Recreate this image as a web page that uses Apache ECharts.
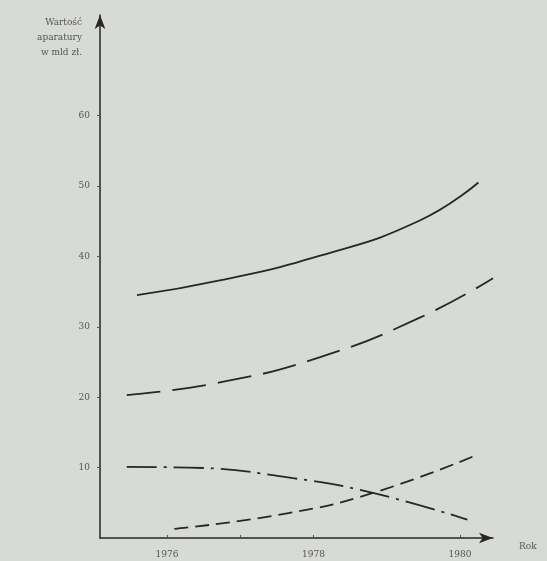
<!DOCTYPE html>
<html><head><meta charset="utf-8">
<script src="https://cdn.jsdelivr.net/npm/echarts@6/dist/echarts.min.js"></script>
<style>html,body{margin:0;padding:0;background:#d8dbd5}#c{width:547px;height:561px}</style>
</head><body><div id="c"></div>
<script>
// data (year, value in mld zł)
const solidYears = [1975.59, 1976.72, 1978.09, 1979.45, 1980.25];
const solidVals  = [34.5, 36.6, 40.1, 45.1, 50.5];
const longDashYears = [1975.45, 1976.72, 1978.09, 1979.45, 1980.45];
const longDashVals  = [20.3, 22.1, 25.7, 31.3, 36.9];
const dashDotYears = [1975.45, 1976.3, 1977.72, 1978.81, 1980.1];
const dashDotVals  = [10.1, 10.0, 8.5, 6.4, 2.6];
const shortDashYears = [1976.1, 1977.64, 1978.81, 1980.23];
const shortDashVals  = [1.3, 3.5, 6.4, 11.8];
const yTicks = [10, 20, 30, 40, 50, 60];
const xTicks = [1976, 1978, 1980];
const yTitle = 'Wartość\naparatury\nw mld zł.';
const xTitle = 'Rok';

const zip = (xs, ys) => xs.map((x, i) => [x, ys[i]]);
const font = '"DejaVu Serif", "Liberation Serif", serif';
const ink = '#262626';
function line(name, xs, ys, type) {
  return { name, type: 'line', data: zip(xs, ys), smooth: true, showSymbol: false,
    lineStyle: { color: ink, width: 1.8, type }, silent: true };
}
const chart = echarts.init(document.getElementById('c'));
chart.setOption({
  backgroundColor: '#d8dbd5',
  animation: false,
  grid: { left: 100, right: 54, top: 15, bottom: 23 },
  xAxis: {
    type: 'value', min: 1975.085, max: 1980.45,
    splitLine: { show: false },
    axisLine: { lineStyle: { color: ink, width: 1.5 }, symbol: ['none', 'arrow'], symbolSize: [8, 14] },
    axisTick: { show: true, customValues: [1976, 1977, 1978, 1980], length: -3, lineStyle: { color: '#555' } },
    axisLabel: { customValues: xTicks, color: '#555', fontFamily: font, fontSize: 9, margin: 12, formatter: v => String(v) },
    name: xTitle, nameLocation: 'end', nameGap: 26,
    nameTextStyle: { color: '#555', fontFamily: font, fontSize: 9, verticalAlign: 'top', padding: [4, 0, 0, 0] }
  },
  yAxis: {
    type: 'value', min: 0, max: 74.3,
    splitLine: { show: false },
    axisLine: { lineStyle: { color: ink, width: 1.5 }, symbol: ['none', 'arrow'], symbolSize: [8, 14] },
    axisTick: { show: true, customValues: yTicks, length: 3, lineStyle: { color: '#555' } },
    axisLabel: { customValues: yTicks, color: '#555', fontFamily: font, fontSize: 9, margin: 10 },
    name: yTitle, nameLocation: 'end', nameGap: -45,
    nameTextStyle: { color: '#555', fontFamily: font, fontSize: 9, align: 'right', lineHeight: 15, padding: [0, 18, 0, 0] }
  },
  series: [
    line('solid', solidYears, solidVals, 'solid'),
    line('long dash', longDashYears, longDashVals, [34, 12]),
    line('dash dot', dashDotYears, dashDotVals, [30, 7, 3, 7]),
    line('short dash', shortDashYears, shortDashVals, [14, 7])
  ]
});
</script></body></html>
